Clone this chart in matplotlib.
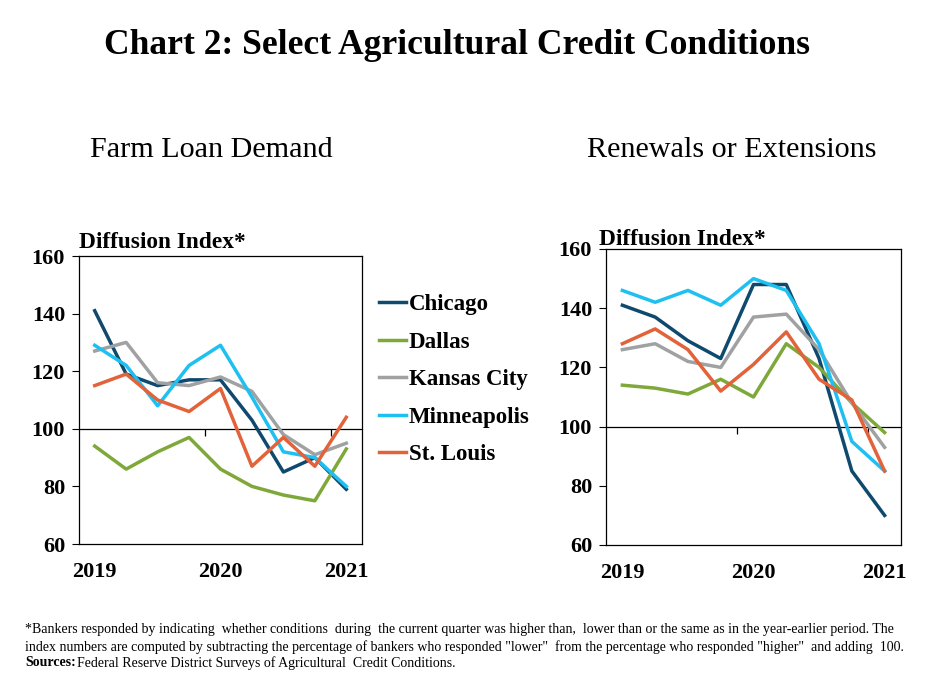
import matplotlib
matplotlib.use("Agg")
from matplotlib import pyplot as plt

plt.rcParams['font.family'] = ['Liberation Serif', 'DejaVu Serif']

# quarters 2019Q1 .. 2021Q1
quarters = list(range(9))
year_labels = ['2019', '2020', '2021']
year_pos = [0, 4, 8]
districts = ['Chicago', 'Dallas', 'Kansas City', 'Minneapolis', 'St. Louis']
colors = ['#0f4a6e', '#7fa83a', '#a0a1a3', '#1ec0f2', '#e2633a']

# Farm loan demand
demand_chicago = [141, 119, 115, 117, 117, 103, 85, 90, 79]
demand_dallas = [94, 86, 92, 97, 86, 80, 77, 75, 93]
demand_kc = [127, 130, 116, 115, 118, 113, 98, 91, 95]
demand_minn = [129, 122, 108, 122, 129, 111, 92, 90, 80]
demand_stl = [115, 119, 110, 106, 114, 87, 97, 87, 104]

# Renewals or extensions
renew_chicago = [141, 137, 129, 123, 148, 148, 123, 85, 70]
renew_dallas = [114, 113, 111, 116, 110, 128, 120, 108, 98]
renew_kc = [126, 128, 122, 120, 137, 138, 126, 108, 93]
renew_minn = [146, 142, 146, 141, 150, 146, 128, 95, 85]
renew_stl = [128, 133, 126, 112, 121, 132, 116, 109, 85]

demand = [demand_chicago, demand_dallas, demand_kc, demand_minn, demand_stl]
renew = [renew_chicago, renew_dallas, renew_kc, renew_minn, renew_stl]

W, H = 925, 693
fig = plt.figure(figsize=(W / 100, H / 100), dpi=100)

def box(l, t, r, b):
    return [l / W, 1 - b / H, (r - l) / W, (b - t) / H]

ax1 = fig.add_axes(box(79, 256, 362, 544))
ax2 = fig.add_axes(box(606, 249, 901, 545))

for ax, data in [(ax1, demand), (ax2, renew)]:
    for vals, name, c in zip(data, districts, colors):
        ax.plot(quarters, vals, color=c, linewidth=2.5, label=name)
    ax.set_xlim(-0.5, 8.5)
    ax.set_ylim(60, 160)
    ax.set_yticks([60, 80, 100, 120, 140, 160])
    ax.set_xticks(year_pos)
    ax.set_xticklabels(year_labels)
    ax.tick_params(axis='x', length=0, pad=13, labelsize=16)
    ax.tick_params(axis='y', direction='out', length=5, width=0.8, pad=5, labelsize=16)
    for lab in ax.get_xticklabels() + ax.get_yticklabels():
        lab.set_fontweight('bold')
    for sp in ax.spines.values():
        sp.set_linewidth(0.9)
    # horizontal axis crossing at 100
    sec = ax.secondary_xaxis(0.4)
    sec.set_xticks([3.5, 7.5])
    sec.set_xticklabels([])
    sec.tick_params(length=5, width=0.9, direction='out')
    sec.spines['bottom'].set_linewidth(0.9)

ax1.text(0.0, 1.01, 'Diffusion Index*', transform=ax1.transAxes, fontsize=16.8,
         fontweight='bold', ha='left', va='bottom')
ax2.text(-0.025, 0.995, 'Diffusion Index*', transform=ax2.transAxes, fontsize=16.8,
         fontweight='bold', ha='left', va='bottom')

ax1.legend(loc='upper left', bbox_to_anchor=(1.027, 0.90), frameon=False,
           prop={'weight': 'bold', 'size': 16.5}, handlelength=1.18,
           handletextpad=0.12, labelspacing=0.72, borderaxespad=0)

fig.text(457 / W, 1 - 45 / H, 'Chart 2: Select Agricultural Credit Conditions',
         fontsize=25.6, fontweight='bold', ha='center', va='center')
fig.text(211.5 / W, 1 - 150 / H, 'Farm Loan Demand', fontsize=21.7,
         ha='center', va='center')
fig.text(732 / W, 1 - 150 / H, 'Renewals or Extensions', fontsize=21.7,
         ha='center', va='center')

foot1 = ('*Bankers responded by indicating  whether conditions  during  the current quarter was '
         'higher than,  lower than or the same as in the year-earlier period. The')
foot2 = ('index numbers are computed by subtracting the percentage of bankers who responded '
         '"lower"  from the percentage who responded "higher"  and adding  100.')
fig.text(25 / W, 1 - 630 / H, foot1, fontsize=10, ha='left', va='center')
fig.text(25 / W, 1 - 647 / H, foot2, fontsize=10, ha='left', va='center')
fig.text(25 / W, 1 - 663 / H, 'Sources:', fontsize=10, fontweight='bold',
         ha='left', va='center')
fig.text(77 / W, 1 - 663 / H, 'Federal Reserve District Surveys of Agricultural  Credit Conditions.',
         fontsize=10, ha='left', va='center')

fig.savefig('out.png', dpi=100)
